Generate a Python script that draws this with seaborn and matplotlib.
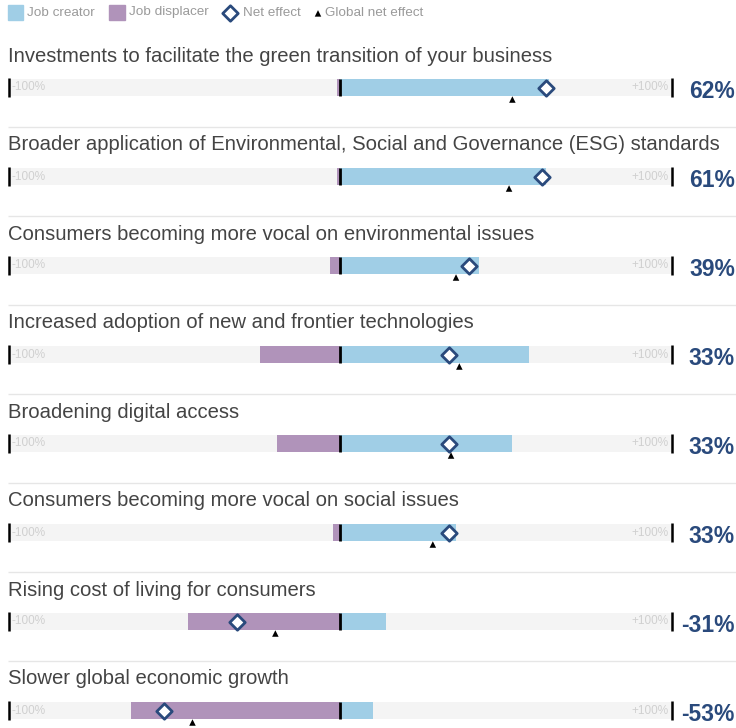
import numpy as np
import pandas as pd
import matplotlib
matplotlib.use("Agg")
import matplotlib.pyplot as plt
import seaborn as sns

categories = [
    "Investments to facilitate the green transition of your business",
    "Broader application of Environmental, Social and Governance (ESG) standards",
    "Consumers becoming more vocal on environmental issues",
    "Increased adoption of new and frontier technologies",
    "Broadening digital access",
    "Consumers becoming more vocal on social issues",
    "Rising cost of living for consumers",
    "Slower global economic growth",
]
job_creator = [63, 62, 42, 57, 52, 35, 14, 10]
job_displacer = [-1, -1, -3, -24, -19, -2, -46, -63]
net_effect = [62, 61, 39, 33, 33, 33, -31, -53]
global_net_effect = [52, 51, 35, 36, 33.5, 28, -19.5, -44.5]

BLUE = "#a0cee6"
PURPLE = "#b093ba"
NAVY = "#2a4a7c"
BAND = "#f4f4f4"
FONT = "Liberation Sans"

sns.set_theme(style="white")
plt.rcParams["font.family"] = [FONT, "DejaVu Sans"]

W, H = 736, 728
fig = plt.figure(figsize=(W / 100, H / 100), dpi=100)
ax = fig.add_axes([0, 0, 1, 1])

# pixel helpers for layout
X0, XS = 340.0, 3.315
Y0, YS = 87.5, 89.0
def px2x(px):
    return (px - X0) / XS
def py2y(py):
    return (py - Y0) / YS

df = pd.DataFrame({
    "category": categories,
    "creator": job_creator,
    "displacer": job_displacer,
    "net": net_effect,
    "global": global_net_effect,
})
df["pos"] = np.arange(len(df))
df["full_pos"] = 100
df["full_neg"] = -100

bw = 17 / YS
common = dict(y="category", orient="h", errorbar=None, saturation=1,
              width=bw, ax=ax, order=categories, linewidth=0)
sns.barplot(data=df, x="full_pos", color=BAND, **common)
sns.barplot(data=df, x="full_neg", color=BAND, **common)
sns.barplot(data=df, x="creator", color=BLUE, **common)
sns.barplot(data=df, x="displacer", color=PURPLE, **common)

n = len(df)
half = bw / 2
# center lines and end ticks
ax.vlines(np.zeros(n), df["pos"] - half, df["pos"] + half, color="black", lw=2, zorder=5)
ax.vlines(np.full(n, -100), df["pos"] - half - 0.01, df["pos"] + half + 0.01, color="black", lw=1.8, zorder=5)
ax.vlines(np.full(n, 100), df["pos"] - half - 0.01, df["pos"] + half + 0.01, color="black", lw=1.8, zorder=5)

# markers
sns.scatterplot(x=df["net"], y=df["pos"], marker="D", s=62, facecolor="white",
                edgecolor=NAVY, linewidth=2, ax=ax, zorder=7, legend=False)
sns.scatterplot(x=df["global"], y=df["pos"] + 0.135, marker="^", s=22, color="black",
                edgecolor="none", ax=ax, zorder=7, legend=False)

for i, row in df.iterrows():
    p = row["pos"]
    ax.text(px2x(8), p + py2y(56), row["category"], fontsize=14.6, color="#444444",
            va="center", ha="left")
    ax.text(px2x(11.5), p, "-100%", fontsize=8.5, color="#d0d0d0", va="center", ha="left", zorder=6)
    ax.text(px2x(668.5), p, "+100%", fontsize=8.5, color="#d0d0d0", va="center", ha="right", zorder=6)
    v = row["net"]
    ax.text(px2x(735), p + 0.05, f"{v:d}%", fontsize=16.5, fontweight="bold", color=NAVY,
            va="center", ha="right")
    if i < n - 1:
        ax.hlines(p + py2y(127), px2x(8), px2x(736), color="#e6e6e6", lw=1)

# legend (manual)
ly = py2y(12.5)
lgray = "#9a9a9a"
ax.add_patch(plt.Rectangle((px2x(8), py2y(5)), 15 / XS, 15 / YS, color=BLUE, clip_on=False))
ax.text(px2x(27), ly, "Job creator", fontsize=9.7, color=lgray, va="center", ha="left")
ax.add_patch(plt.Rectangle((px2x(109), py2y(5)), 16 / XS, 15 / YS, color=PURPLE, clip_on=False))
ax.text(px2x(129), ly, "Job displacer", fontsize=9.7, color=lgray, va="center", ha="left")
ax.scatter([px2x(230)], [ly], marker="D", s=62, facecolor="white", edgecolor=NAVY, linewidth=2, zorder=7)
ax.text(px2x(243), ly, "Net effect", fontsize=9.7, color=lgray, va="center", ha="left")
ax.scatter([px2x(318)], [ly + 0.01], marker="^", s=22, color="black", edgecolor="none", zorder=7)
ax.text(px2x(325), ly, "Global net effect", fontsize=9.7, color=lgray, va="center", ha="left")

ax.set_xlim(px2x(0), px2x(W))
ax.set_ylim(py2y(H), py2y(0))
ax.set_axis_off()

fig.savefig("out.png", dpi=100)
